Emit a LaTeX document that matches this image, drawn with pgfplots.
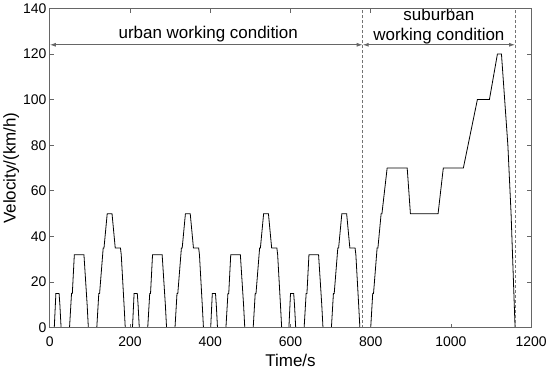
\documentclass[border=0pt]{standalone}
\usepackage{pgfplots}
\pgfplotsset{compat=1.18}
\usepackage{fontspec}
\setmainfont{Liberation Sans}
\usetikzlibrary{arrows.meta}
\begin{document}
\begin{tikzpicture}
\begin{axis}[
    scale only axis,
    width=482pt, height=320pt,
    xmin=0, xmax=1200, ymin=0, ymax=140,
    xtick={0,200,...,1200}, ytick={0,20,...,140},
    tick align=inside,
    axis line style={black!60, line width=1pt}, tick style={black!60, line width=0.8pt},
    axis on top,
    xlabel={Time/s}, ylabel={Velocity/(km/h)},
    label style={font=\fontsize{17}{19}\selectfont},
    tick label style={font=\fontsize{14}{16}\selectfont},
    /pgf/number format/assume math mode=true,
    /pgf/number format/1000 sep={},
    xticklabel style={yshift=-5pt},
    xlabel style={yshift=-1pt},
    ylabel style={yshift=-3pt},
]
% NEDC: four urban cycles (ECE-15) and one suburban cycle (EUDC)
\addplot[black, line width=0.8pt] coordinates {
    (0,0)(11,0)(15,15)(23,15)(25,10)(28,0)(49,0)(54,15)(56,15)(61,32)(85,32)(93,10)(96,0)
    (117,0)(122,15)(124,15)(133,35)(135,35)(143,50)(155,50)(163,35)(176,35)(178,32)(185,10)(188,0)(195,0)
    (206,0)(210,15)(218,15)(220,10)(223,0)(244,0)(249,15)(251,15)(256,32)(280,32)(288,10)(291,0)
    (312,0)(317,15)(319,15)(328,35)(330,35)(338,50)(350,50)(358,35)(371,35)(373,32)(380,10)(383,0)(390,0)
    (401,0)(405,15)(413,15)(415,10)(418,0)(439,0)(444,15)(446,15)(451,32)(475,32)(483,10)(486,0)
    (507,0)(512,15)(514,15)(523,35)(525,35)(533,50)(545,50)(553,35)(566,35)(568,32)(575,10)(578,0)(585,0)
    (596,0)(600,15)(608,15)(610,10)(613,0)(634,0)(639,15)(641,15)(646,32)(670,32)(678,10)(681,0)
    (702,0)(707,15)(709,15)(718,35)(720,35)(728,50)(740,50)(748,35)(761,35)(763,32)(770,10)(773,0)(780,0)
    (800,0)(805,15)(807,15)(816,35)(818,35)(826,50)(828,50)(841,70)(891,70)(899,50)(968,50)
    (981,70)(1031,70)(1066,100)(1096,100)(1116,120)(1126,120)(1142,80)(1150,50)(1160,0)(1180,0)};
\draw[black!55, line width=0.8pt, dash pattern=on 3pt off 2pt] (axis cs:780,0) -- (axis cs:780,140);
\draw[black!55, line width=0.8pt, dash pattern=on 3pt off 2pt] (axis cs:1160,0) -- (axis cs:1160,140);
\draw[black!60, line width=0.9pt, {Latex[length=6pt,width=4pt]}-{Latex[length=6pt,width=4pt]}]
    (axis cs:0,124) -- (axis cs:780,124);
\draw[black!60, line width=0.9pt, {Latex[length=6pt,width=4pt]}-{Latex[length=6pt,width=4pt]}]
    (axis cs:780,124) -- (axis cs:1160,124);
\node[above, font=\fontsize{17}{19}\selectfont, inner sep=3pt] at (axis cs:395,124) {urban working condition};
\node[above, align=center, font=\fontsize{17}{20}\selectfont, inner sep=1pt] at (axis cs:970,124) {suburban\\working condition};
\end{axis}
\end{tikzpicture}
\end{document}
